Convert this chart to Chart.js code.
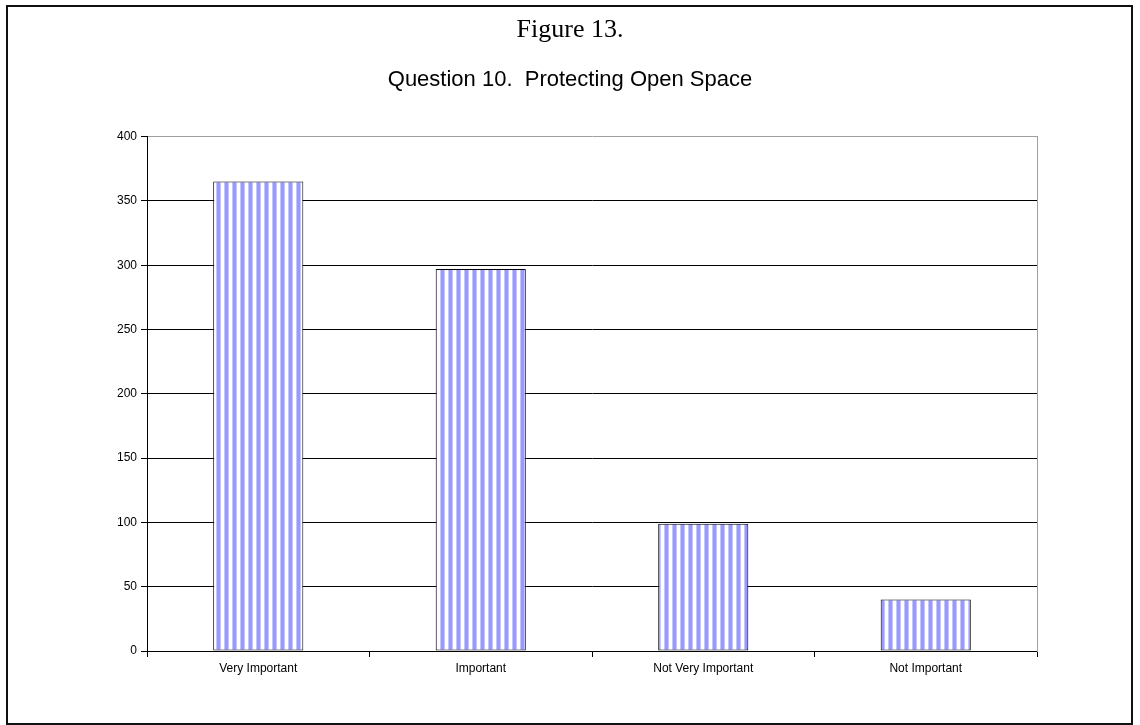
<!DOCTYPE html>
<html>
  <head>
    <meta charset="UTF-8">
    <title>Figure 13. Question 10. Protecting Open Space</title>
    <script src="https://cdn.jsdelivr.net/npm/chart.js"></script>
    <style>
      body { margin: 0; background: #fff; }
      #wrap { width: 1140px; height: 725px; position: relative; }
    </style>
  </head>
  <body>
    <div id="wrap"><canvas id="chart"></canvas></div>

    <script>
      // chart data
      var categories = ['Very Important', 'Important', 'Not Very Important', 'Not Important'];
      var responses = [365, 297, 99, 40];
      var yTicks = [0, 50, 100, 150, 200, 250, 300, 350, 400];
      var figureTitle = 'Figure 13.';
      var chartTitle = 'Question 10.  Protecting Open Space';

      // vertical stripe fill like the old spreadsheet pattern
      function stripes() {
        var c = document.createElement('canvas');
        c.width = 8;
        c.height = 8;
        var g = c.getContext('2d');
        g.fillStyle = '#ffffff';
        g.fillRect(0, 0, 8, 8);
        g.fillStyle = '#c4c4ff';
        g.fillRect(0, 0, 5, 8);
        g.fillStyle = '#9999ff';
        g.fillRect(1, 0, 3, 8);
        return g.createPattern(c, 'repeat');
      }

      // outer frame of the figure
      var framePlugin = {
        id: 'frame',
        afterDraw: function(chart) {
          var ctx = chart.ctx;
          ctx.save();
          ctx.strokeStyle = '#111';
          ctx.lineWidth = 2;
          ctx.strokeRect(7, 6, 1125, 718);
          ctx.restore();
        }
      };

      var ctx = document.getElementById('chart').getContext('2d');
      var chart = new Chart(ctx, {
        type: 'bar',
        data: {
          labels: categories,
          datasets: [{
            data: responses,
            yAxisID: 'y',
            backgroundColor: stripes(),
            borderColor: '#000',
            borderWidth: 1,
            borderSkipped: false,
            barPercentage: 0.405,
            categoryPercentage: 1
          }]
        },
        options: {
          responsive: true,
          maintainAspectRatio: false,
          animation: false,
          layout: { padding: { top: 8, left: 20, right: 20, bottom: 20 } },
          plugins: {
            legend: { display: false },
            tooltip: { enabled: false },
            title: {
              display: true,
              text: figureTitle,
              color: '#000',
              font: { family: 'Liberation Serif', size: 26, weight: 'normal' },
              padding: { top: 7, bottom: 10 }
            },
            subtitle: {
              display: true,
              text: chartTitle,
              color: '#000',
              font: { family: 'Liberation Sans', size: 22 },
              padding: { top: 11, bottom: 43 }
            }
          },
          scales: {
            x: {
              afterFit: function(s) { s.height = 54; },
              grid: { drawOnChartArea: false, tickLength: 6, color: '#000' },
              border: { color: '#000' },
              ticks: {
                color: '#000',
                padding: 4,
                maxRotation: 0,
                font: { family: 'Liberation Sans', size: 12 }
              }
            },
            y: {
              min: 0,
              max: 400,
              afterFit: function(s) { s.width = 127; },
              afterBuildTicks: function(s) {
                s.ticks = yTicks.map(function(v) { return { value: v }; });
              },
              grid: {
                tickLength: 6,
                color: function(c) { return c.tick && c.tick.value === 400 ? '#a0a0a0' : '#000'; },
                tickColor: '#000'
              },
              border: { color: '#000' },
              ticks: {
                color: '#000',
                padding: 4,
                font: { family: 'Liberation Sans', size: 12 }
              }
            },
            // right edge of the plot (grey border), keeps titles centred on the page
            yRight: {
              position: 'right',
              min: 0,
              max: 400,
              afterFit: function(s) { s.width = 83; },
              grid: { drawOnChartArea: false, drawTicks: false },
              border: { color: '#a0a0a0' },
              ticks: { display: false }
            }
          }
        },
        plugins: [framePlugin]
      });
    </script>
  </body>
</html>
